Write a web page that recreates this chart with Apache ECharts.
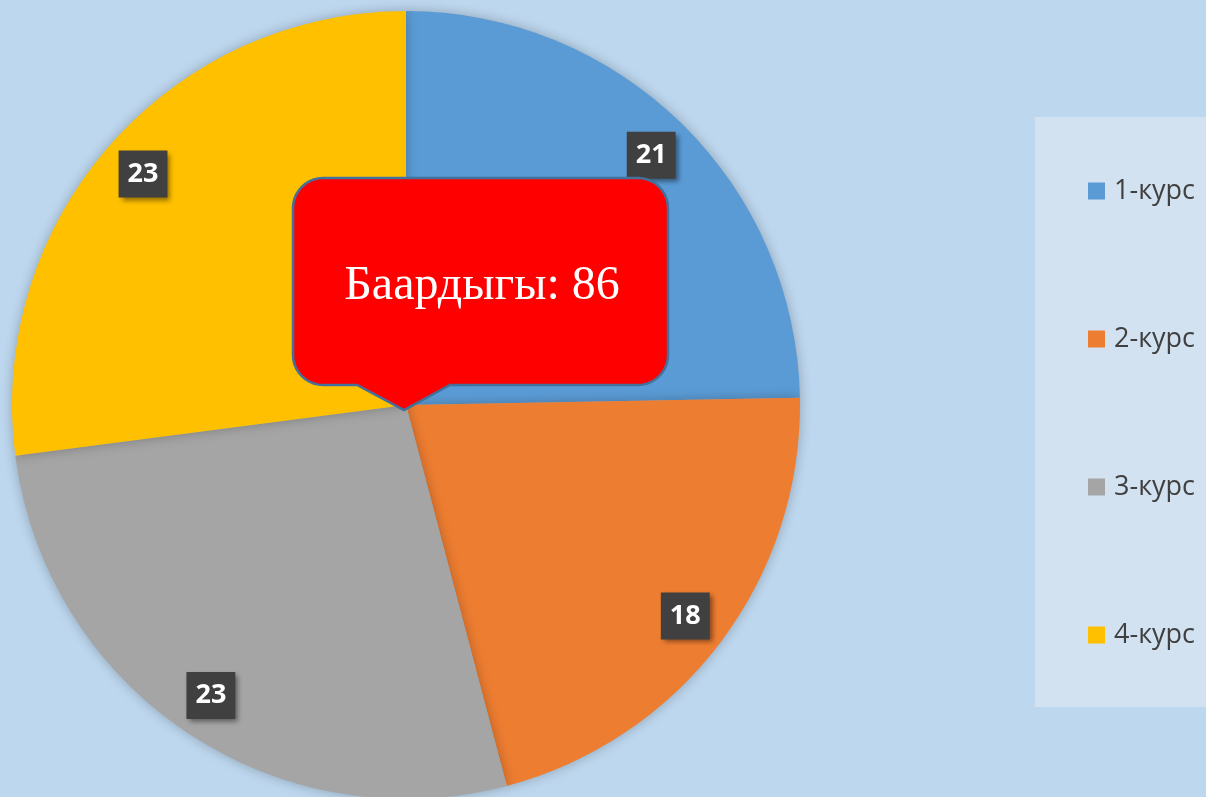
<!DOCTYPE html>
<html>
<head>
<meta charset="utf-8">
<script src="https://cdn.jsdelivr.net/npm/echarts@6/dist/echarts.min.js"></script>
<style>html,body{margin:0;padding:0;background:#bdd7ee;}#c{width:1206px;height:797px;}</style>
</head>
<body>
<div id="c"></div>
<script>
const categories = ['1-курс', '2-курс', '3-курс', '4-курс'];
const values = [21, 18, 23, 23];
const colors = ['#5b9bd5', '#ed7d31', '#a5a5a5', '#ffc000'];
const calloutText = 'Баардыгы: 86';

// callout outline (rounded rectangle with a pointer)
function calloutPoints(x0, y0, x1, y1, r, px0, px1, tipX, tipY) {
  const pts = [];
  function arc(cx, cy, a0, a1) {
    for (let k = 0; k <= 10; k++) {
      const a = a0 + (a1 - a0) * k / 10;
      pts.push([cx + r * Math.cos(a), cy + r * Math.sin(a)]);
    }
  }
  arc(x0 + r, y0 + r, Math.PI, 1.5 * Math.PI);
  arc(x1 - r, y0 + r, 1.5 * Math.PI, 2 * Math.PI);
  arc(x1 - r, y1 - r, 0, 0.5 * Math.PI);
  pts.push([px1, y1]); pts.push([tipX, tipY]); pts.push([px0, y1]);
  arc(x0 + r, y1 - r, 0.5 * Math.PI, Math.PI);
  return pts;
}

const chart = echarts.init(document.getElementById('c'));
const data = categories.map((n, i) => ({ name: n, value: values[i], itemStyle: { color: colors[i] } }));
chart.setOption({
  backgroundColor: '#bdd7ee',
  animation: false,
  legend: {
    orient: 'vertical',
    left: 1088,
    top: 176,
    padding: 0,
    itemWidth: 17,
    itemHeight: 17,
    itemGap: 118,
    icon: 'rect',
    data: categories,
    textStyle: { fontFamily: 'Open Sans', fontSize: 27, lineHeight: 30, color: '#404040', padding: [0, 0, 0, 4] }
  },
  graphic: [
    { type: 'rect', z: -1, shape: { x: 1035, y: 117, width: 171, height: 590 }, style: { fill: '#d2e2f1' } },
    { type: 'polygon', z: 100, shape: { points: calloutPoints(293, 178, 668, 385, 30, 357, 450, 404, 410) },
      style: { fill: '#ff0000', stroke: '#41719c', lineWidth: 2.5 } },
    { type: 'text', z: 101, x: 482, y: 286, style: { text: calloutText, fill: '#ffffff', font: '48px "Liberation Serif"', textAlign: 'center', textVerticalAlign: 'middle' } }
  ],
  series: [
    {
      type: 'pie', center: [406, 405], radius: [0, 394], startAngle: 90, clockwise: true,
      data: data, label: { show: false }, labelLine: { show: false }, silent: true,
      itemStyle: { shadowBlur: 12, shadowColor: 'rgba(0,0,0,0.25)' }
    },
    {
      type: 'pie', center: [406, 405], radius: [300, 394], startAngle: 90, clockwise: true,
      data: categories.map((n, i) => ({ name: n, value: values[i], itemStyle: { color: 'rgba(0,0,0,0)' } })),
      silent: true, legendHoverLink: false,
      label: {
        show: true, position: 'inside', formatter: '{c}',
        color: '#ffffff', fontFamily: 'Open Sans', fontWeight: 'bold', fontSize: 27,
        backgroundColor: '#404040', padding: [11, 9, 9, 9],
        shadowBlur: 5, shadowColor: 'rgba(0,0,0,0.45)', shadowOffsetX: 3, shadowOffsetY: 3
      },
      labelLine: { show: false }
    }
  ]
});
</script>
</body>
</html>
